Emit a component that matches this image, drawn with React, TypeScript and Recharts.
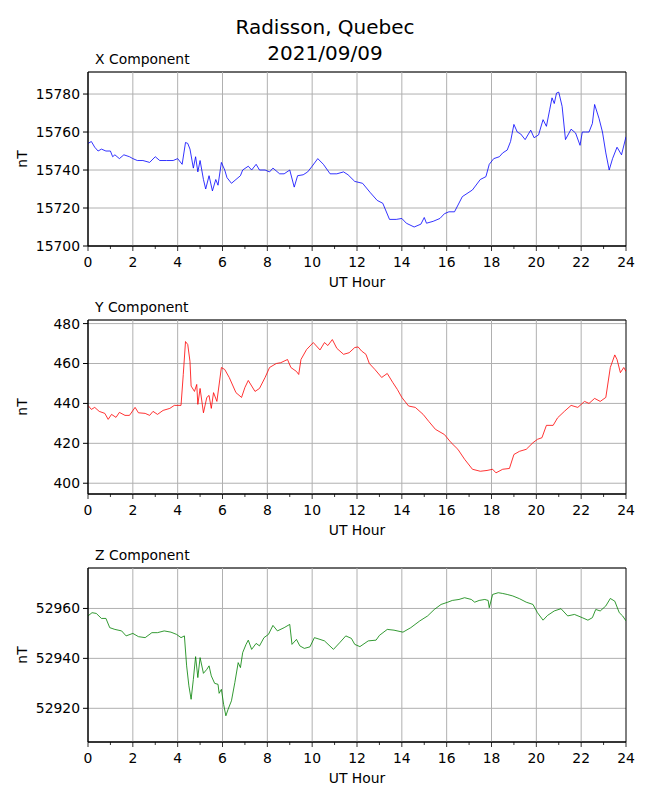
import React from 'react'
import { LineChart, Line, XAxis, YAxis, CartesianGrid, ReferenceLine, ReferenceArea, Label } from 'recharts'

const FONT = '"DejaVu Sans", sans-serif'

// X component (nT)
const xHours = [0, 0.15, 0.3, 0.45, 0.6, 0.8, 1.0, 1.1, 1.2, 1.4, 1.6, 1.85, 2.0, 2.2, 2.45, 2.75, 3.0, 3.2, 3.5, 3.8, 4.0, 4.2, 4.35, 4.45, 4.55, 4.7, 4.8, 4.9, 5.0, 5.15, 5.25, 5.4, 5.55, 5.7, 5.8, 5.95, 6.1, 6.2, 6.4, 6.6, 6.8, 6.9, 7.15, 7.3, 7.5, 7.65, 7.9, 8.1, 8.25, 8.55, 8.75, 9.0, 9.2, 9.35, 9.6, 9.8, 10.0, 10.25, 10.5, 10.8, 11.1, 11.4, 11.6, 11.9, 12.25, 12.6, 12.9, 13.15, 13.45, 13.75, 14.0, 14.2, 14.55, 14.85, 15.0, 15.1, 15.4, 15.7, 15.9, 16.1, 16.35, 16.7, 17.15, 17.5, 17.75, 17.9, 18.1, 18.35, 18.5, 18.7, 18.85, 19.0, 19.15, 19.3, 19.5, 19.75, 19.9, 20.1, 20.3, 20.45, 20.6, 20.7, 20.8, 20.9, 21.0, 21.15, 21.3, 21.55, 21.75, 21.95, 22.05, 22.2, 22.35, 22.5, 22.6, 22.8, 22.95, 23.1, 23.25, 23.4, 23.6, 23.8, 24.0]
const xValues = [15754, 15755, 15752, 15750, 15751, 15750, 15750, 15747, 15748, 15746, 15748, 15747, 15746, 15745, 15745, 15744, 15747, 15745, 15745, 15745, 15746, 15743, 15754.5, 15754, 15751, 15741, 15747, 15739, 15745, 15735, 15730, 15737, 15729, 15735, 15732, 15744, 15740, 15736, 15733, 15735, 15737, 15740, 15742, 15740, 15743, 15740, 15740, 15739, 15741, 15738, 15738, 15740, 15731, 15737, 15737.5, 15739, 15742, 15746, 15743, 15738, 15738, 15739, 15737.5, 15734, 15733, 15728, 15724, 15722.5, 15714, 15714, 15714.5, 15712, 15710, 15711.5, 15715, 15712, 15713, 15714.5, 15717, 15718, 15718, 15726, 15729.5, 15735, 15736.5, 15743, 15746, 15747, 15749, 15750.5, 15755, 15764, 15760, 15759, 15756, 15761, 15757, 15758.5, 15766.5, 15763, 15772, 15778, 15775, 15780.5, 15781, 15773.5, 15756, 15761.5, 15759.5, 15753, 15760, 15760, 15760, 15764.5, 15774.5, 15767, 15760, 15749, 15740, 15746, 15752, 15748, 15757.5]

// Y component (nT)
const yHours = [0, 0.15, 0.3, 0.5, 0.75, 0.9, 1.05, 1.25, 1.4, 1.65, 1.85, 2.1, 2.25, 2.55, 2.75, 2.9, 3.1, 3.35, 3.65, 3.85, 4.15, 4.25, 4.35, 4.45, 4.55, 4.6, 4.75, 4.85, 4.9, 5.0, 5.15, 5.3, 5.4, 5.5, 5.6, 5.75, 5.95, 6.1, 6.3, 6.6, 6.85, 7.0, 7.15, 7.45, 7.65, 7.9, 8.1, 8.4, 8.6, 8.9, 9.05, 9.3, 9.4, 9.5, 9.75, 10.05, 10.35, 10.55, 10.7, 10.9, 11.1, 11.4, 11.65, 11.9, 12.05, 12.2, 12.4, 12.55, 12.8, 13.1, 13.35, 13.6, 13.8, 14.0, 14.3, 14.6, 14.95, 15.2, 15.5, 15.9, 16.2, 16.5, 16.8, 17.15, 17.5, 17.8, 18.05, 18.2, 18.5, 18.8, 19.0, 19.25, 19.55, 19.85, 20.05, 20.25, 20.45, 20.75, 20.95, 21.25, 21.55, 21.85, 22.15, 22.35, 22.6, 22.85, 23.1, 23.3, 23.5, 23.6, 23.75, 23.9, 24.0]
const yValues = [439, 437, 438, 436, 435, 432, 434.5, 433, 435.5, 434, 434, 438, 435.3, 435, 434, 436, 434.5, 436.5, 437.5, 439, 439, 454.5, 471, 469.5, 461, 448.7, 446, 449.5, 439.5, 447.5, 435.3, 443, 444, 437.5, 445.4, 441, 458, 457, 453, 445.4, 443, 448, 451.5, 446, 447.5, 453, 458, 460, 460.4, 462, 458, 456, 454.5, 462, 467, 470.5, 466.8, 470.5, 469, 472, 467.6, 464.6, 465.4, 468, 468.3, 466.3, 464.6, 460, 457, 453, 455, 450.4, 447, 443, 438.7, 438, 434.5, 431, 427, 424.4, 420.3, 417, 412, 407, 406, 406.4, 407, 405.2, 407, 407.4, 414.4, 416, 417, 420.3, 422, 422.8, 429, 429, 432.8, 436, 439, 438, 441, 440, 442.5, 441, 443, 458, 464.3, 462, 455.4, 458, 456]

// Z component (nT)
const zHours = [0, 0.18, 0.37, 0.6, 0.8, 0.97, 1.2, 1.5, 1.7, 2.0, 2.25, 2.55, 2.85, 3.1, 3.4, 3.7, 3.95, 4.15, 4.3, 4.4, 4.5, 4.6, 4.7, 4.8, 4.9, 5.0, 5.15, 5.3, 5.4, 5.5, 5.65, 5.8, 5.85, 5.95, 6.05, 6.15, 6.25, 6.4, 6.55, 6.7, 6.8, 6.9, 7.05, 7.15, 7.3, 7.5, 7.65, 7.85, 8.05, 8.25, 8.45, 8.75, 9.0, 9.1, 9.3, 9.45, 9.65, 9.9, 10.1, 10.35, 10.55, 10.95, 11.25, 11.5, 11.75, 11.9, 12.13, 12.5, 12.85, 13.0, 13.35, 13.65, 14.05, 14.4, 14.8, 15.15, 15.45, 15.75, 16.05, 16.25, 16.55, 16.8, 17.1, 17.25, 17.45, 17.7, 17.85, 17.9, 18.05, 18.3, 18.5, 18.7, 18.95, 19.25, 19.55, 19.85, 20.05, 20.3, 20.5, 20.8, 21.1, 21.4, 21.7, 22.05, 22.3, 22.5, 22.65, 22.85, 23.1, 23.3, 23.5, 23.7, 23.85, 24.0]
const zValues = [52957, 52958.3, 52958, 52956, 52956, 52952.3, 52951.6, 52951, 52949, 52950, 52948.7, 52948.3, 52950.3, 52950.3, 52951, 52950.5, 52949.6, 52948.3, 52949, 52937, 52929, 52923.6, 52931.6, 52940.7, 52932.3, 52940.3, 52934, 52935.6, 52937, 52933, 52930, 52929.6, 52926, 52927.6, 52921.6, 52917, 52919.6, 52923, 52930.3, 52938.3, 52936.3, 52942.3, 52945.6, 52947.3, 52943.6, 52946, 52945, 52948.3, 52949.6, 52953.2, 52951, 52952.3, 52953.6, 52945.6, 52947.6, 52945, 52944, 52944.6, 52948.3, 52947.6, 52947, 52943.6, 52946.5, 52949, 52948, 52945.6, 52944.7, 52947, 52947.3, 52949.2, 52951.6, 52951.3, 52950.5, 52952.3, 52955, 52957, 52959.6, 52961.6, 52962.5, 52963.2, 52963.6, 52964.3, 52963.6, 52962.5, 52963.2, 52963.6, 52963.2, 52960.3, 52965.6, 52966.3, 52966, 52965.6, 52965, 52963.9, 52962.5, 52961.6, 52958.3, 52955.3, 52957.2, 52959, 52959.9, 52957, 52957.6, 52956.3, 52955.3, 52956.3, 52959.6, 52959, 52961, 52964, 52962.9, 52958.3, 52957, 52955]

const hourTicks = Array.from({ length: 25 }, (_, i) => i)
const gridHours = [2, 4, 6, 8, 10, 12, 14, 16, 18, 20, 22]
const xTicks = [15700, 15720, 15740, 15760, 15780]
const yTicks = [400, 420, 440, 460, 480]
const zTicks = [52920, 52940, 52960]

const HourTick = (props: any) => {
  const { x, y, payload } = props
  const major = payload.value % 2 === 0
  return (
    <g>
      <line x1={x} y1={y} x2={x} y2={y + (major ? 5 : 3)} stroke="#000" strokeWidth={0.8} />
      {major && (
        <text x={x} y={y + 21} textAnchor="middle" fontSize={13.9} fontFamily={FONT} fill="#000">
          {payload.value}
        </text>
      )}
    </g>
  )
}

const NtLabel = (props: any) => {
  const { viewBox } = props
  const cx = viewBox.x + 22
  const cy = viewBox.y + viewBox.height / 2
  return (
    <text x={cx} y={cy} transform={`rotate(-90 ${cx} ${cy})`} textAnchor="middle" dominantBaseline="central"
      fontSize={13.9} fontFamily={FONT} fill="#000">nT</text>
  )
}

const HourLabel = (props: any) => {
  const { viewBox } = props
  const cx = viewBox.x + viewBox.width / 2
  return (
    <text x={cx} y={viewBox.y + 41} textAnchor="middle" fontSize={13.9} fontFamily={FONT} fill="#000">UT Hour</text>
  )
}

function Panel({ title, hours, values, color, domain, ticks, top }: any) {
  const data = hours.map((h: number, i: number) => ({ h, v: values[i] }))
  return (
    <div style={{ position: 'absolute', left: 0, top: top - 10, width: 650, height: 236 }}>
      <div style={{ position: 'absolute', left: 95, top: -11, fontFamily: FONT, fontSize: 13.9, lineHeight: '16px', whiteSpace: 'nowrap' }}>
        {title}
      </div>
      <LineChart width={650} height={236} data={data} margin={{ top: 10, right: 24, bottom: 8, left: 0 }}>
        <CartesianGrid vertical={false} stroke="#b0b0b0" strokeWidth={1} />
        {gridHours.map((g) => (
          <ReferenceLine key={g} x={g} stroke="#b0b0b0" strokeWidth={1} />
        ))}
        <XAxis dataKey="h" type="number" domain={[0, 24]} ticks={hourTicks} interval={0} tick={<HourTick />}
          tickLine={false} tickSize={0} tickMargin={0} height={44} axisLine={{ stroke: '#000' }} allowDataOverflow>
          <Label content={<HourLabel />} />
        </XAxis>
        <YAxis type="number" domain={domain} ticks={ticks} interval={0} width={88} allowDataOverflow
          tick={{ fontSize: 13.9, fontFamily: FONT, fill: '#000' }} tickSize={5} tickMargin={3}
          tickLine={{ stroke: '#000' }} axisLine={{ stroke: '#000' }}>
          <Label content={<NtLabel />} />
        </YAxis>
        <ReferenceArea x1={0} x2={24} y1={domain[0]} y2={domain[1]} fill="none" fillOpacity={0} stroke="#000" strokeWidth={1} />
        <Line type="linear" dataKey="v" stroke={color} strokeWidth={0.8} dot={false} isAnimationActive={false} />
      </LineChart>
    </div>
  )
}

export default function App() {
  return (
    <div style={{ position: 'absolute', left: 0, top: 0, width: 650, height: 800, background: '#fff' }}>
      <div style={{ position: 'absolute', left: 0, top: 14, width: 650, textAlign: 'center', fontFamily: FONT, fontSize: 20, lineHeight: '26px' }}>
        Radisson, Quebec<br />2021/09/09
      </div>
      <Panel title="X Component" hours={xHours} values={xValues} color="#0000ff" domain={[15700, 15791.6]} ticks={xTicks} top={72} />
      <Panel title="Y Component" hours={yHours} values={yValues} color="#ff0000" domain={[394.6, 481.8]} ticks={yTicks} top={320} />
      <Panel title="Z Component" hours={zHours} values={zValues} color="#008000" domain={[52906.5, 52976.2]} ticks={zTicks} top={568} />
    </div>
  )
}
